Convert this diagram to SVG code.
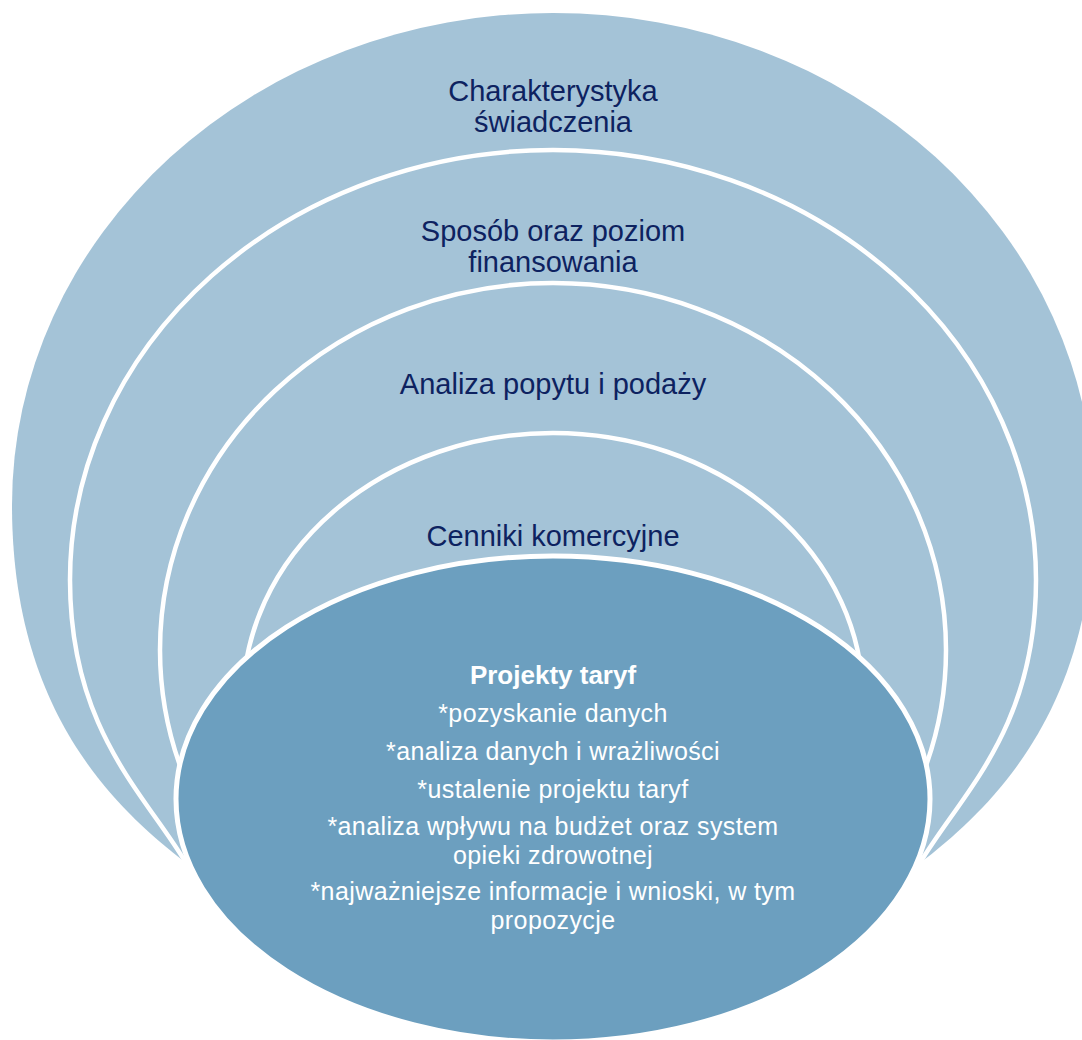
<svg xmlns="http://www.w3.org/2000/svg" width="1082" height="1040" viewBox="0 0 1082 1040">
<style>
.arch{fill:#A4C3D7;stroke:#FFFFFF;stroke-width:4.5;stroke-linejoin:round}
.outer{fill:#A4C3D7;stroke:none}
.core{fill:#6C9FBF;stroke:#FFFFFF;stroke-width:5}
.dark{font-family:"Liberation Sans",Arial,sans-serif;font-size:29px;fill:#0D2260;text-anchor:middle}
.light{font-family:"Liberation Sans",Arial,sans-serif;font-size:25px;letter-spacing:0.4px;fill:#FFFFFF;text-anchor:middle}
.bold{font-weight:bold;font-size:26px;letter-spacing:0}
</style>
<rect width="1082" height="1040" fill="#FFFFFF"/>
<g id="node-charakterystyka">
<path class="outer" d="M553,900 L186,863 C107,802 12,705 12,505 A541 492 0 0 1 1094,505 C1094,705 999,802 920,863 Z"/>
<text class="dark" x="553" y="101">Charakterystyka</text>
<text class="dark" x="553" y="132">świadczenia</text>
</g>
<g id="node-sposob">
<path class="arch" d="M553,900 L186,863 C145,794 70,730 70,580 A483 430 0 0 1 1036,580 C1036,730 961,794 920,863 Z"/>
<text class="dark" x="553" y="241">Sposób oraz poziom</text>
<text class="dark" x="553" y="272">finansowania</text>
</g>
<g id="node-analiza">
<ellipse class="arch" cx="553" cy="650" rx="393" ry="367"/>
<text class="dark" x="553" y="394">Analiza popytu i podaży</text>
</g>
<g id="node-cenniki">
<ellipse class="arch" cx="553" cy="700" rx="310" ry="267"/>
<text class="dark" x="553" y="546">Cenniki komercyjne</text>
</g>
<g id="node-projekty">
<ellipse class="core" cx="553" cy="799" rx="377" ry="243"/>
<text class="light bold" x="553" y="684">Projekty taryf</text>
<text class="light" x="553" y="722">*pozyskanie danych</text>
<text class="light" x="553" y="760">*analiza danych i wrażliwości</text>
<text class="light" x="553" y="798">*ustalenie projektu taryf</text>
<text class="light" x="553" y="835">*analiza wpływu na budżet oraz system</text>
<text class="light" x="553" y="864">opieki zdrowotnej</text>
<text class="light" x="553" y="900">*najważniejsze informacje i wnioski, w tym</text>
<text class="light" x="553" y="929">propozycje</text>
</g>
</svg>
